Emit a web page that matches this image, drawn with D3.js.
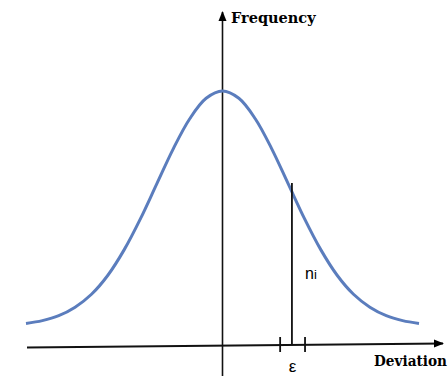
<!DOCTYPE html>
<html>
<head>
<meta charset="utf-8">
<script src="https://cdn.jsdelivr.net/npm/d3@7"></script>
<style>
  body { margin: 0; background: #fff; }
  svg { display: block; }
</style>
</head>
<body>
<svg width="448" height="376"></svg>
<script>
// Deviation (in sigma units) and relative frequency
const deviation = [-3, -2.75, -2.5, -2.25, -2, -1.75, -1.5, -1.25, -1, -0.75, -0.5, -0.25, 0,
                   0.25, 0.5, 0.75, 1, 1.25, 1.5, 1.75, 2, 2.25, 2.5, 2.75, 3];
const frequency = [0.011, 0.023, 0.044, 0.08, 0.135, 0.216, 0.325, 0.458, 0.607, 0.755, 0.882, 0.969, 1,
                   0.969, 0.882, 0.755, 0.607, 0.458, 0.325, 0.216, 0.135, 0.08, 0.044, 0.023, 0.011];

// the marked interval ε and the ordinate n_i
const epsLow = 0.88, epsHigh = 1.26, niAt = 1.06, niValue = 0.6;

const svg = d3.select('svg');

const x = d3.scaleLinear().domain([-3, 3]).range([26, 419]);
const y = d3.scaleLinear().domain([0, 1]).range([326, 91]);

const axisY = 346; // y of the x axis around the origin

// Arrow marker
svg.append('defs').append('marker')
    .attr('id', 'arrow')
    .attr('viewBox', '0 0 10 10')
    .attr('refX', 9).attr('refY', 5)
    .attr('markerWidth', 10).attr('markerHeight', 10)
    .attr('markerUnits', 'userSpaceOnUse')
    .attr('orient', 'auto')
  .append('path')
    .attr('d', 'M0,1 L10,5 L0,9 Z')
    .attr('fill', '#000');

// x axis (slightly tilted in the source)
svg.append('line')
    .attr('x1', 27).attr('y1', 347.5)
    .attr('x2', 443).attr('y2', 343.5)
    .attr('stroke', '#111')
    .attr('stroke-width', 1.8)
    .attr('marker-end', 'url(#arrow)');

// y axis
svg.append('line')
    .attr('x1', x(0)).attr('y1', 376)
    .attr('x2', x(0)).attr('y2', 12)
    .attr('stroke', '#111')
    .attr('stroke-width', 1.6)
    .attr('marker-end', 'url(#arrow)');

// bell curve
const line = d3.line()
    .x((d, i) => x(deviation[i]))
    .y(d => y(d))
    .curve(d3.curveCatmullRom);

svg.append('path')
    .datum(frequency)
    .attr('d', line)
    .attr('fill', 'none')
    .attr('stroke', '#5b7dbd')
    .attr('stroke-width', 3);

// n_i ordinate
svg.append('line')
    .attr('x1', x(niAt)).attr('x2', x(niAt))
    .attr('y1', y(niValue) - 2).attr('y2', axisY - 2)
    .attr('stroke', '#111')
    .attr('stroke-width', 1.8);

// ε ticks
svg.selectAll('.eps')
  .data([epsLow, epsHigh])
  .join('line')
    .attr('class', 'eps')
    .attr('x1', d => x(d)).attr('x2', d => x(d))
    .attr('y1', 337).attr('y2', 352)
    .attr('stroke', '#111')
    .attr('stroke-width', 1.8);

// labels
svg.append('text')
    .attr('x', 231).attr('y', 23)
    .attr('font-family', 'DejaVu Serif, serif')
    .attr('font-weight', 'bold')
    .attr('font-size', 14.5)
    .text('Frequency');

svg.append('text')
    .attr('x', 374).attr('y', 366)
    .attr('font-family', 'DejaVu Serif, serif')
    .attr('font-weight', 'bold')
    .attr('font-size', 14)
    .attr('textLength', 73)
    .attr('lengthAdjust', 'spacingAndGlyphs')
    .text('Deviation');

svg.append('text')
    .attr('x', x((epsLow + epsHigh) / 2)).attr('y', 372)
    .attr('text-anchor', 'middle')
    .attr('font-family', 'Liberation Sans, sans-serif')
    .attr('font-size', 17)
    .text('ε');

const ni = svg.append('text')
    .attr('x', 305).attr('y', 279)
    .attr('font-family', 'Liberation Sans, sans-serif')
    .attr('font-size', 16);
ni.append('tspan').text('n');
ni.append('tspan').attr('font-size', 13).text('i');
</script>
</body>
</html>
